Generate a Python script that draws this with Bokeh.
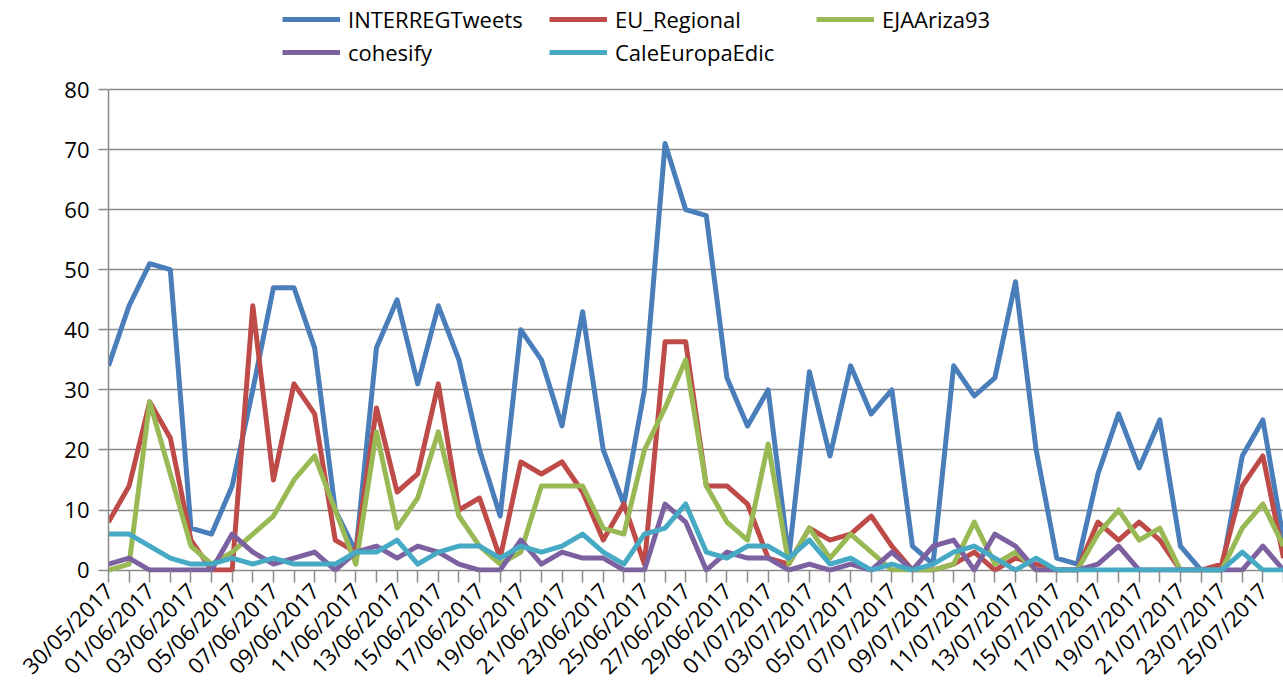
import math
from bokeh.plotting import figure
from bokeh.models import Range1d, FixedTicker, Legend, LegendItem
from bokeh.embed import file_html
from bokeh.resources import INLINE

dates = [
    "30/05/2017", "31/05/2017", "01/06/2017", "02/06/2017", "03/06/2017", "04/06/2017",
    "05/06/2017", "06/06/2017", "07/06/2017", "08/06/2017", "09/06/2017", "10/06/2017",
    "11/06/2017", "12/06/2017", "13/06/2017", "14/06/2017", "15/06/2017", "16/06/2017",
    "17/06/2017", "18/06/2017", "19/06/2017", "20/06/2017", "21/06/2017", "22/06/2017",
    "23/06/2017", "24/06/2017", "25/06/2017", "26/06/2017", "27/06/2017", "28/06/2017",
    "29/06/2017", "30/06/2017", "01/07/2017", "02/07/2017", "03/07/2017", "04/07/2017",
    "05/07/2017", "06/07/2017", "07/07/2017", "08/07/2017", "09/07/2017", "10/07/2017",
    "11/07/2017", "12/07/2017", "13/07/2017", "14/07/2017", "15/07/2017", "16/07/2017",
    "17/07/2017", "18/07/2017", "19/07/2017", "20/07/2017", "21/07/2017", "22/07/2017",
    "23/07/2017", "24/07/2017", "25/07/2017", "26/07/2017",
]

interreg_tweets = [34, 44, 51, 50, 7, 6, 14, 30, 47, 47, 37, 10, 3, 37, 45, 31, 44, 35, 20, 9,
                   40, 35, 24, 43, 20, 11, 30, 71, 60, 59, 32, 24, 30, 2, 33, 19, 34, 26, 30, 4,
                   1, 34, 29, 32, 48, 20, 2, 1, 16, 26, 17, 25, 4, 0, 0, 19, 25, 5]
eu_regional = [8, 14, 28, 22, 5, 0, 0, 44, 15, 31, 26, 5, 3, 27, 13, 16, 31, 10, 12, 2,
               18, 16, 18, 13, 5, 11, 1, 38, 38, 14, 14, 11, 2, 1, 7, 5, 6, 9, 4, 0,
               0, 1, 3, 0, 2, 1, 0, 0, 8, 5, 8, 5, 0, 0, 1, 14, 19, 2]
ejaariza93 = [0, 1, 28, 16, 4, 1, 3, 6, 9, 15, 19, 10, 1, 23, 7, 12, 23, 9, 4, 1,
              3, 14, 14, 14, 7, 6, 20, 27, 35, 14, 8, 5, 21, 1, 7, 2, 6, 3, 0, 0,
              0, 1, 8, 1, 3, 0, 0, 0, 6, 10, 5, 7, 0, 0, 0, 7, 11, 4]
cohesify = [1, 2, 0, 0, 0, 0, 6, 3, 1, 2, 3, 0, 3, 4, 2, 4, 3, 1, 0, 0,
            5, 1, 3, 2, 2, 0, 0, 11, 8, 0, 3, 2, 2, 0, 1, 0, 1, 0, 3, 0,
            4, 5, 0, 6, 4, 0, 0, 0, 1, 4, 0, 0, 0, 0, 0, 0, 4, 0]
cale_europa_edic = [6, 6, 4, 2, 1, 1, 2, 1, 2, 1, 1, 1, 3, 3, 5, 1, 3, 4, 4, 2,
                    4, 3, 4, 6, 3, 1, 6, 7, 11, 3, 2, 4, 4, 2, 5, 1, 2, 0, 1, 0,
                    1, 3, 4, 2, 0, 2, 0, 0, 0, 0, 0, 0, 0, 0, 0, 3, 0, 0]

series_names = ["INTERREGTweets", "EU_Regional", "EJAAriza93", "cohesify", "CaleEuropaEdic"]
series_values = [interreg_tweets, eu_regional, ejaariza93, cohesify, cale_europa_edic]
series_colors = ["#4A7EBB", "#BE4B48", "#98B954", "#7D60A0", "#46AAC5"]
y_ticks = [0, 10, 20, 30, 40, 50, 60, 70, 80]

x = list(range(len(dates)))
FONT = "Open Sans"
GRID = "#8a8a8a"

FRAME_H = 572
Y_LO = -0.4
Y_TOP = Y_LO + FRAME_H * (80 - Y_LO) / 483.0  # extra room above 80 for the legend

p = figure(frame_width=1175, frame_height=FRAME_H,
           x_range=Range1d(0, 57), y_range=Range1d(Y_LO, Y_TOP),
           output_backend="svg", toolbar_location=None,
           min_border_left=108, min_border_right=0, min_border_top=0, min_border_bottom=124)
p.outline_line_color = None
p.background_fill_color = "white"
p.border_fill_color = "white"

p.xgrid.visible = False
p.ygrid.ticker = FixedTicker(ticks=y_ticks)
p.ygrid.grid_line_color = GRID
p.ygrid.grid_line_width = 1.5

p.yaxis.ticker = FixedTicker(ticks=y_ticks)
p.yaxis.bounds = (0, 80)
p.yaxis.axis_line_color = GRID
p.yaxis.axis_line_width = 1.5
p.yaxis.major_tick_line_color = GRID
p.yaxis.major_tick_line_width = 1.5
p.yaxis.major_tick_out = 10
p.yaxis.major_tick_in = 0
p.yaxis.minor_tick_line_color = None
p.yaxis.major_label_standoff = 9
p.yaxis.major_label_text_font = FONT
p.yaxis.major_label_text_font_size = "22px"
p.yaxis.major_label_text_color = "black"

p.xaxis.ticker = FixedTicker(ticks=x)
p.xaxis.major_label_overrides = {i: (dates[i] if i % 2 == 0 else "") for i in x}
p.xaxis.axis_line_color = None
p.xaxis.major_tick_line_color = GRID
p.xaxis.major_tick_line_width = 1.5
p.xaxis.major_tick_out = 10
p.xaxis.major_tick_in = 2
p.xaxis.minor_tick_line_color = None
p.xaxis.major_label_orientation = math.pi / 4
p.xaxis.major_label_standoff = 4
p.xaxis.major_label_text_font = FONT
p.xaxis.major_label_text_font_size = "22px"
p.xaxis.major_label_text_color = "black"

items = {}
for name, vals, col in zip(series_names, series_values, series_colors):
    r = p.line(x, vals, line_color=col, line_width=5, line_join="round")
    items[name] = LegendItem(label=name, renderers=[r])

LEG = dict(orientation="horizontal", padding=2, margin=0, spacing=3, label_standoff=8,
           glyph_width=58, glyph_height=30, label_height=30, label_width=198,
           border_line_color=None, background_fill_alpha=0,
           label_text_font=FONT, label_text_font_size="22px", label_text_color="black")

# first two legend columns (2 x 2 grid)
legend_a = Legend(items=[items["INTERREGTweets"], items["EU_Regional"],
                         items["cohesify"], items["CaleEuropaEdic"]],
                  ncols=2, location=(174, FRAME_H - 67), **LEG)
# third legend column
legend_b = Legend(items=[items["EJAAriza93"]], ncols=1,
                  location=(708, FRAME_H - 34), **LEG)
p.add_layout(legend_a)
p.add_layout(legend_b)

open("out.html", "w").write(file_html(p, INLINE))
